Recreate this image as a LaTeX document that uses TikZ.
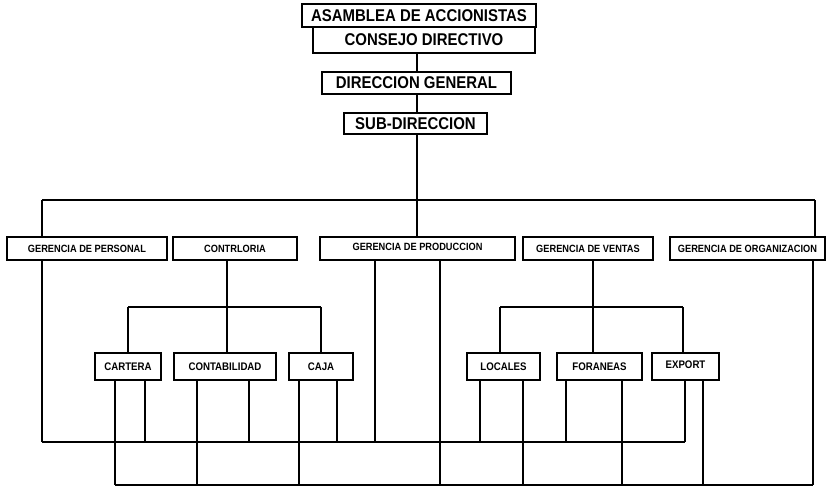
\documentclass[tikz,border=0pt]{standalone}
\usepackage{fontspec}
\setmainfont{Liberation Sans}[FakeStretch=0.88]
\begin{document}
\begin{tikzpicture}[x=1pt,y=-1pt]
\tikzset{
  bx/.style={draw, line width=1.6pt, inner sep=0pt, font=\bfseries\fontsize{10.5}{10.5}\selectfont},
  smallbx/.style={bx, font=\bfseries\fontsize{11}{11}\selectfont},
  bigbx/.style={bx, font=\bfseries\fontsize{17}{17}\selectfont},
  ln/.style={line width=2.7pt}
}
\useasboundingbox (0,0) rectangle (835,487);
% top chain
\node[bigbx, minimum width=234pt, minimum height=23pt] (asam) at (419,15.5) {ASAMBLEA DE ACCIONISTAS};
\node[bigbx, minimum width=222pt, minimum height=26pt] (cons) at (424,40) {CONSEJO DIRECTIVO};
\node[bigbx, minimum width=189pt, minimum height=22pt] (dirg) at (416.5,83) {DIRECCION GENERAL};
\node[bigbx, minimum width=143pt, minimum height=21pt] (subd) at (415.5,123.5) {SUB-DIRECCION};
% gerencias
\node[bx, minimum width=160pt, minimum height=23pt] (gper) at (87,248.5) {GERENCIA DE PERSONAL};
\node[bx, minimum width=124pt, minimum height=23pt] (cont) at (235,248.5) {CONTRLORIA};
\node[bx, minimum width=195pt, minimum height=23pt, text depth=4pt] (gpro) at (417.5,248.5) {GERENCIA DE PRODUCCION};
\node[bx, minimum width=130pt, minimum height=23pt] (gven) at (588,248.5) {GERENCIA DE VENTAS};
\node[bx, minimum width=155pt, minimum height=23pt] (gorg) at (747.5,248.5) {GERENCIA DE ORGANIZACION};
% lower boxes
\node[smallbx, minimum width=66pt, minimum height=27pt] (cart) at (128,366.5) {CARTERA};
\node[smallbx, minimum width=102pt, minimum height=27pt] (ctab) at (225,366.5) {CONTABILIDAD};
\node[smallbx, minimum width=64pt, minimum height=27pt] (caja) at (321,366.5) {CAJA};
\node[smallbx, minimum width=73pt, minimum height=27pt] (loc) at (503.5,366.5) {LOCALES};
\node[smallbx, minimum width=85pt, minimum height=27pt] (for) at (599.5,366.5) {FORANEAS};
\node[smallbx, minimum width=67pt, minimum height=27pt, text depth=4pt] (exp) at (685.5,366.5) {EXPORT};
% bus coordinates
\coordinate (busT) at (417,200);
\coordinate (busL) at (227,307);
\coordinate (busR) at (593,307);
\coordinate (busM) at (42,442);
\coordinate (busB) at (115,485);
% top vertical chain
\draw[ln] (cons.south -| busT) -- (dirg.north -| busT);
\draw[ln] (dirg.south -| busT) -- (subd.north -| busT);
\draw[ln] (subd.south -| busT) -- (busT);
% top bus
\coordinate (tL) at (42,200);
\coordinate (tR) at (815,200);
\draw[ln] (tL) -- (tR);
\draw[ln] (tL) -- (tL |- gper.north);
\draw[ln] (busT) -- (gpro.north -| busT);
\draw[ln] (tR) -- (tR |- gorg.north);
% contraloria branch
\coordinate (lA) at (128,307);
\coordinate (lB) at (321,307);
\draw[ln] (cont.south -| busL) -- (busL);
\draw[ln] (lA) -- (lB);
\draw[ln] (lA) -- (cart.north);
\draw[ln] (busL) -- (busL |- ctab.north);
\draw[ln] (lB) -- (caja.north);
% ventas branch
\coordinate (rA) at (500,307);
\coordinate (rB) at (683,307);
\draw[ln] (gven.south -| busR) -- (busR);
\draw[ln] (rA) -- (rB);
\draw[ln] (rA) -- (rA |- loc.north);
\draw[ln] (busR) -- (busR |- for.north);
\draw[ln] (rB) -- (rB |- exp.north);
% middle bus (y=442)
\coordinate (mEnd) at (685,442);
\draw[ln] (busM) -- (mEnd);
\draw[ln] (gper.south -| busM) -- (busM);
\coordinate (m1) at (145,442);
\coordinate (m2) at (249,442);
\coordinate (m3) at (337,442);
\coordinate (m4) at (375,442);
\coordinate (m5) at (480,442);
\coordinate (m6) at (566,442);
\draw[ln] (cart.south -| m1) -- (m1);
\draw[ln] (ctab.south -| m2) -- (m2);
\draw[ln] (caja.south -| m3) -- (m3);
\draw[ln] (gpro.south -| m4) -- (m4);
\draw[ln] (loc.south -| m5) -- (m5);
\draw[ln] (for.south -| m6) -- (m6);
\draw[ln] (exp.south -| mEnd) -- (mEnd);
% bottom bus (y=485)
\coordinate (bEnd) at (813,485);
\draw[ln] (busB) -- (bEnd);
\draw[ln] (cart.south -| busB) -- (busB);
\coordinate (b2) at (197,485);
\coordinate (b3) at (299,485);
\coordinate (b4) at (440,485);
\coordinate (b5) at (523,485);
\coordinate (b6) at (622,485);
\coordinate (b7) at (703,485);
\draw[ln] (ctab.south -| b2) -- (b2);
\draw[ln] (caja.south -| b3) -- (b3);
\draw[ln] (gpro.south -| b4) -- (b4);
\draw[ln] (loc.south -| b5) -- (b5);
\draw[ln] (for.south -| b6) -- (b6);
\draw[ln] (exp.south -| b7) -- (b7);
\draw[ln] (gorg.south -| bEnd) -- (bEnd);
\end{tikzpicture}
\end{document}
